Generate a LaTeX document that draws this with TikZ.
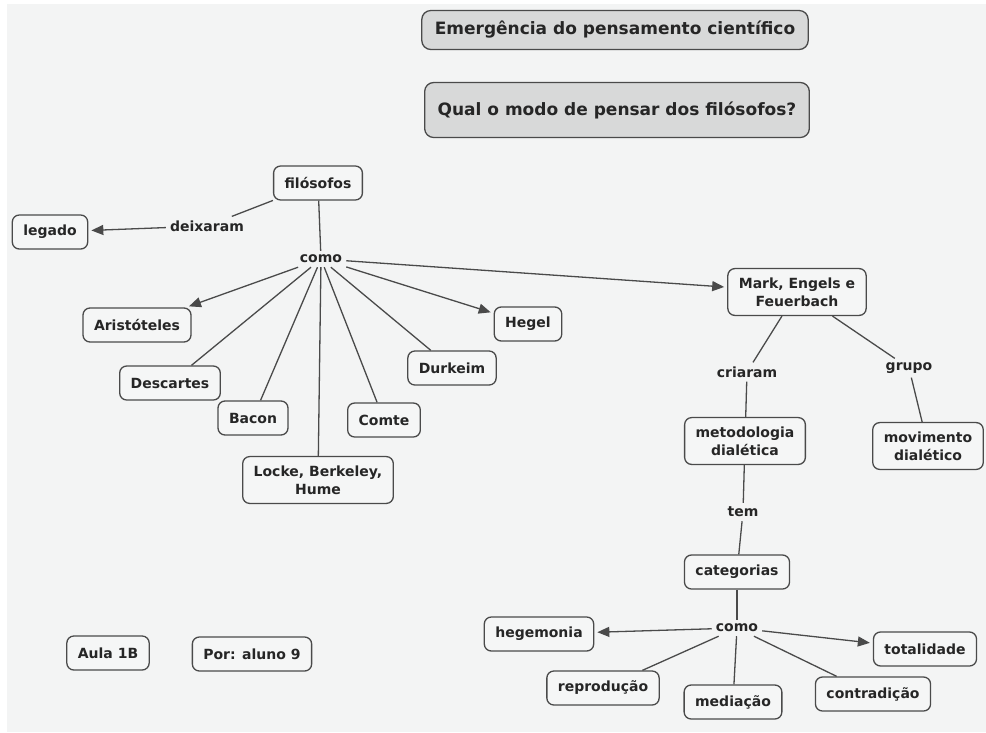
\documentclass[tikz,border=0pt]{standalone}
\usepackage{fontspec}
\setmainfont{DejaVu Sans}
\usepackage{xcolor}
\usetikzlibrary{arrows.meta}

\definecolor{bgcol}{HTML}{F3F4F4}
\definecolor{boxfill}{HTML}{F5F6F6}
\definecolor{titlefill}{HTML}{D8D9D9}
\definecolor{linecol}{HTML}{4A4A4A}
\definecolor{textcol}{HTML}{262626}

\tikzset{
  concept/.style={draw=linecol, line width=1.3pt, rounded corners=7pt, fill=boxfill, text=textcol,
    font=\fontsize{14}{18}\selectfont\bfseries, align=center, inner xsep=11pt, inner ysep=9pt, minimum height=34pt},
  titlebox/.style={concept, fill=titlefill, rounded corners=9pt, font=\fontsize{17}{20}\selectfont\bfseries, inner xsep=13pt},
  phrase/.style={fill=bgcol, text=textcol, font=\fontsize{14}{18}\selectfont\bfseries, inner sep=4pt},
  link/.style={draw=linecol, line width=1.3pt},
  arrowlink/.style={link, -{Triangle[length=12pt,width=10pt]}, shorten >=3pt}
}

\begin{document}
\begin{tikzpicture}[x=1pt, y=-1pt]
 \useasboundingbox (0,0) rectangle (986,732);
 \fill[bgcol] (7,4) rectangle (986,732);

 %titles
 \node[titlebox, minimum height=39pt] (emerg) at (615,30) {Emergência do pensamento científico};
 \node[titlebox, minimum height=55pt] (qual) at (617,110) {Qual o modo de pensar dos filósofos?};

 %left part
 \node[concept] (filosofos) at (318,183) {filósofos};
 \node[concept] (legado) at (50,232) {legado};
 \node[phrase] (deixaram) at (207,226) {deixaram};
 \node[phrase] (comoA) at (321,259) {como};
 \node[concept] (aristoteles) at (137,325) {Aristóteles};
 \node[concept] (descartes) at (170,383) {Descartes};
 \node[concept] (bacon) at (253,418) {Bacon};
 \node[concept] (locke) at (318,480) {Locke, Berkeley,\\Hume};
 \node[concept] (comte) at (384,420) {Comte};
 \node[concept] (durkeim) at (452,368) {Durkeim};
 \node[concept] (hegel) at (528,324) {Hegel};

 %right part
 \node[concept] (marx) at (797,292) {Mark, Engels e\\Feuerbach};
 \node[phrase] (criaram) at (747,372) {criaram};
 \node[phrase] (grupo) at (909,368) {grupo};
 \node[concept] (metodologia) at (745,441) {metodologia\\dialética};
 \node[concept] (movimento) at (928,446) {movimento\\dialético};
 \node[phrase] (tem) at (743,512) {tem};
 \node[concept] (categorias) at (737,572) {categorias};
 \node[phrase] (comoB) at (737,628) {como};
 \node[concept] (hegemonia) at (539,634) {hegemonia};
 \node[concept] (totalidade) at (925,649) {totalidade};
 \node[concept] (reproducao) at (603,688) {reprodução};
 \node[concept] (mediacao) at (733,702) {mediação};
 \node[concept] (contradicao) at (873,694) {contradição};

 %footer
 \node[concept] (aula) at (108,653) {Aula 1B};
 \node[concept] (autor) at (252,654) {Por: aluno 9};

 %links
 \draw[link] (filosofos) -- (deixaram);
 \draw[arrowlink] (deixaram) -- (legado);
 \draw[link] (filosofos) -- (comoA);
 \draw[arrowlink] (comoA) -- (aristoteles);
 \draw[link] (comoA) -- (descartes);
 \draw[link] (comoA) -- (bacon);
 \draw[link] (comoA) -- (locke);
 \draw[link] (comoA) -- (comte);
 \draw[link] (comoA) -- (durkeim);
 \draw[arrowlink] (comoA) -- (hegel);
 \draw[arrowlink] (comoA) -- (marx);

 \draw[link] (marx) -- (criaram);
 \draw[link] (criaram) -- (metodologia);
 \draw[link] (marx) -- (grupo);
 \draw[link] (grupo) -- (movimento);
 \draw[link] (metodologia) -- (tem);
 \draw[link] (tem) -- (categorias);
 \draw[link] (categorias) -- (comoB);
 \draw[arrowlink] (comoB) -- (hegemonia);
 \draw[arrowlink] (comoB) -- (totalidade);
 \draw[link] (comoB) -- (reproducao);
 \draw[link] (comoB) -- (mediacao);
 \draw[link] (comoB) -- (contradicao);
\end{tikzpicture}
\end{document}
